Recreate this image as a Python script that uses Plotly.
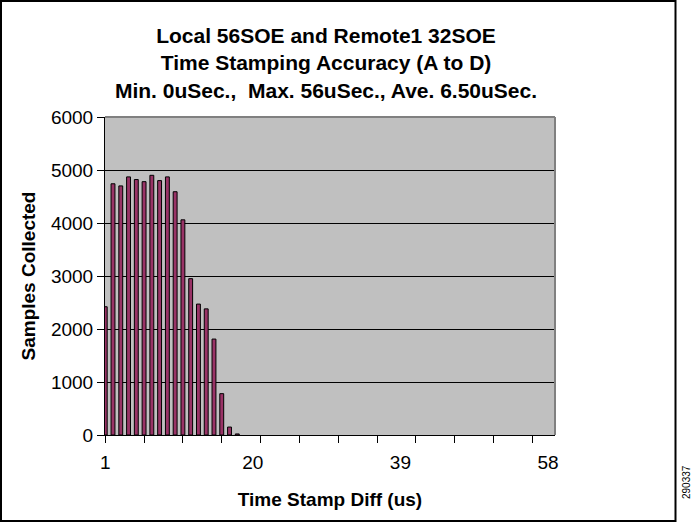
import plotly.graph_objects as go

# ---- data ----
diff_us = list(range(1, 59))
samples = [2420, 4740, 4700, 4870, 4820, 4780, 4900, 4800, 4870, 4590,
           4060, 2950, 2470, 2380, 1810, 780, 150, 20] + [0] * 40
x_tick_vals = [1, 20, 39, 58]
x_tick_text = ["1", "20", "39", "58"]
x_minor_ticks = list(range(1, 57, 5))
y_ticks = [0, 1000, 2000, 3000, 4000, 5000, 6000]

title_lines = ["Local 56SOE and Remote1 32SOE",
               "Time Stamping Accuracy (A to D)",
               "Min. 0uSec.,  Max. 56uSec., Ave. 6.50uSec."]

W, H = 695, 522
L, R, T, B = 105, 140, 117, 87
pw, ph = W - L - R, H - T - B

def px_x(p):
    return (p - L) / pw

def px_y(p):
    return (H - B - p) / ph

FONT = "Liberation Sans, Arial, sans-serif"

fig = go.Figure()
fig.add_trace(go.Bar(
    x=diff_us, y=[v if v > 0 else None for v in samples], width=0.5,
    marker=dict(color="#993366", line=dict(color="#000000", width=1)),
    showlegend=False, hoverinfo="x+y",
))
# invisible trace to carry the labelled overlay axis
fig.add_trace(go.Scatter(
    x=[x_tick_vals[0]], y=[0], xaxis="x2", mode="markers",
    marker=dict(opacity=0), showlegend=False, hoverinfo="skip",
))

fig.update_layout(
    width=W, height=H,
    margin=dict(l=L, r=R, t=T, b=B, autoexpand=False),
    paper_bgcolor="#FFFFFF",
    plot_bgcolor="#C0C0C0",
    font=dict(family=FONT, color="#000000", size=19),
    title=dict(
        text="<br>".join(title_lines),
        x=326 / W, xanchor="center",
        y=1 - 43 / H, yanchor="top",
        font=dict(family=FONT, size=21, weight="bold", color="#000000"),
    ),
    xaxis=dict(
        range=[0.97, 58.9],
        tickmode="array", tickvals=x_minor_ticks,
        showticklabels=False,
        ticks="outside", ticklen=7, tickcolor="#000000", tickwidth=1,
        showline=True, linecolor="#000000", linewidth=1,
        showgrid=False, zeroline=False,
    ),
    xaxis2=dict(
        overlaying="x", matches="x", anchor="y", side="bottom",
        tickmode="array", tickvals=x_tick_vals, ticktext=x_tick_text,
        ticks="", ticklabelstandoff=14,
        tickfont=dict(family=FONT, size=19),
        showline=False, showgrid=False, zeroline=False,
        title=dict(text="Time Stamp Diff (us)", standoff=20,
                   font=dict(family=FONT, size=19, weight="bold")),
    ),
    yaxis=dict(
        range=[0, 6000],
        tickmode="array", tickvals=y_ticks,
        tickfont=dict(family=FONT, size=19),
        ticks="outside", ticklen=7, tickcolor="#000000", tickwidth=1,
        showline=True, linecolor="#000000", linewidth=1,
        showgrid=True, gridcolor="#000000", gridwidth=1,
        zeroline=False,
        title=dict(text="Samples Collected", standoff=10,
                   font=dict(family=FONT, size=19, weight="bold")),
    ),
    shapes=[
        # gray plot-area border (top and right)
        dict(type="line", xref="paper", yref="paper", x0=0, x1=1, y0=1, y1=1,
             line=dict(color="#808080", width=2), layer="above"),
        dict(type="line", xref="paper", yref="paper", x0=1, x1=1, y0=0, y1=1,
             line=dict(color="#808080", width=2), layer="above"),
        # outer black frame
        dict(type="rect", xref="paper", yref="paper",
             x0=px_x(1), x1=px_x(675.5), y0=px_y(521), y1=px_y(1),
             line=dict(color="#000000", width=2), fillcolor="rgba(0,0,0,0)",
             layer="above"),
    ],
    annotations=[
        dict(text="290337", xref="paper", yref="paper",
             x=px_x(686), y=px_y(482), textangle=-90, showarrow=False,
             font=dict(family=FONT, size=10, color="#000000"),
             xanchor="center", yanchor="middle"),
    ],
)

fig.write_html("out.html",
               config={"displayModeBar": False},
               post_script="document.body.style.margin='0';")
